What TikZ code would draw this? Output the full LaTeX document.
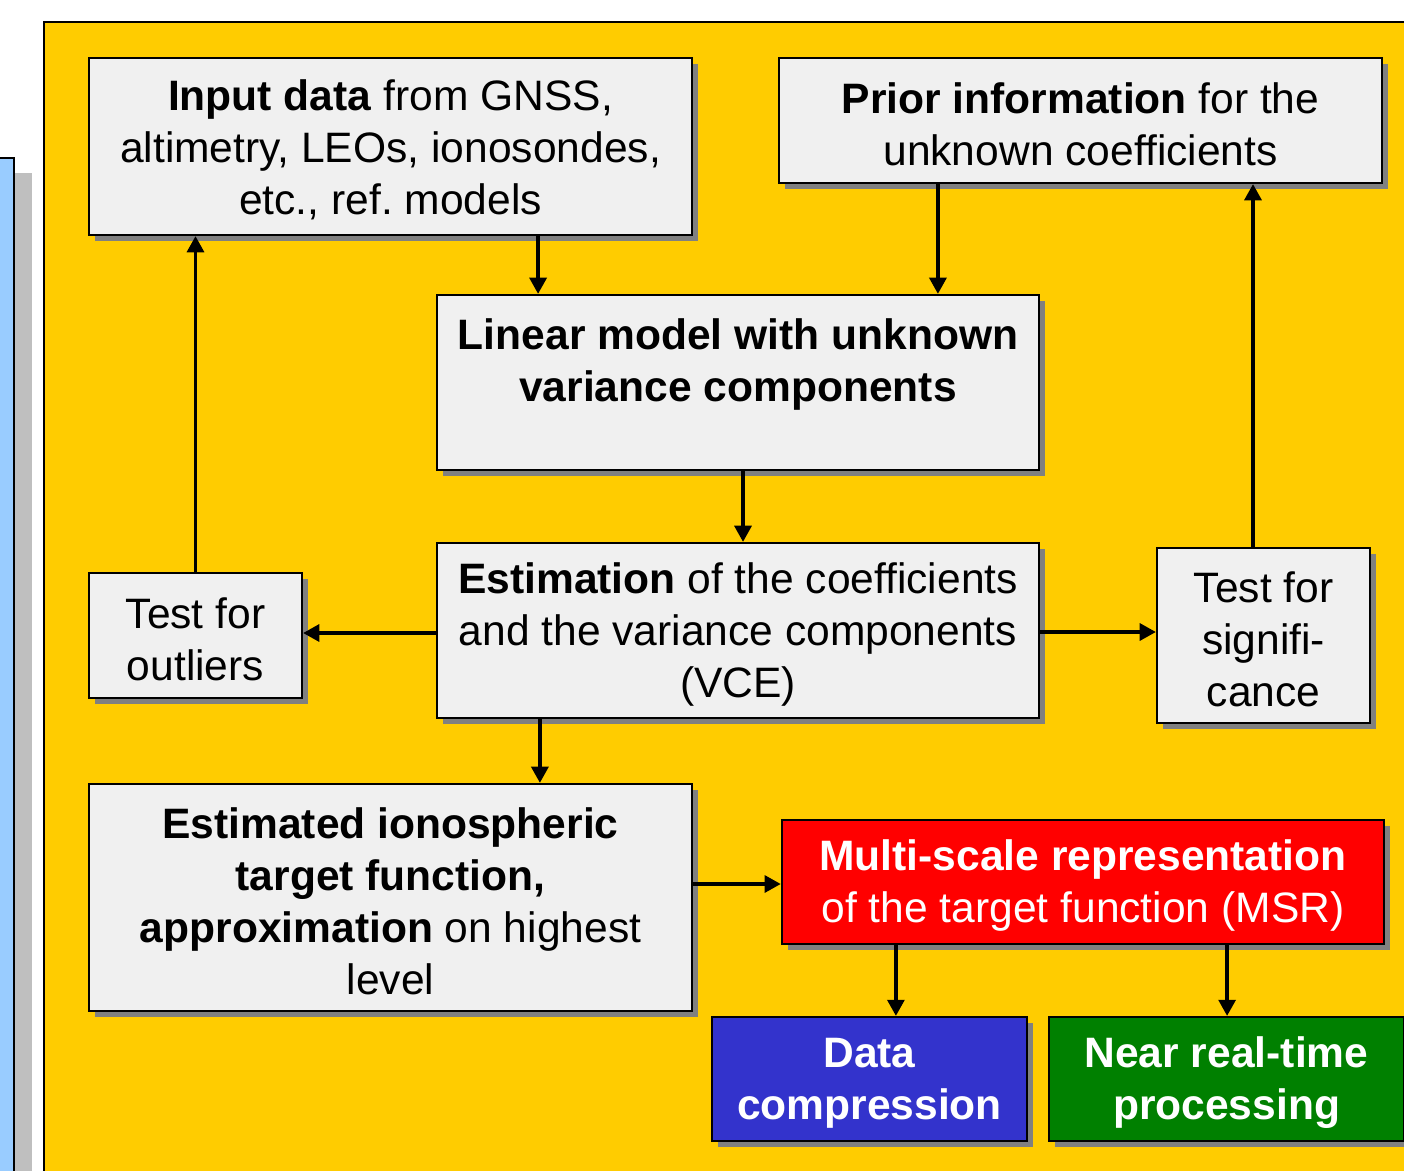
\documentclass[tikz,border=0pt]{standalone}
\usepackage{fontspec}
\setmainfont{Liberation Sans}
\usetikzlibrary{positioning,arrows.meta,shadows}
\definecolor{panelyellow}{HTML}{FFCC00}
\definecolor{boxgray}{HTML}{F0F0F0}
\definecolor{stripblue}{HTML}{99CCFF}
\definecolor{msrred}{HTML}{FF0000}
\definecolor{compblue}{HTML}{3333CC}
\definecolor{nrtgreen}{HTML}{008000}
\frenchspacing
\newcommand{\lift}{\rule{0pt}{10.9pt}}

\begin{document}
\begin{tikzpicture}[x=0.01cm,y=-0.01cm,
  box/.style={draw,line width=0.6pt,fill=boxgray,align=center,inner sep=0pt,
    font=\fontsize{12.1}{14.8}\selectfont,
    drop shadow={shadow xshift=0.06cm,shadow yshift=-0.06cm,fill=black!50,opacity=1}},
  colbox/.style={box,text=white,font=\fontsize{12.1}{14.8}\selectfont\bfseries},
  arr/.style={-{Triangle[width=4.8pt,length=4.6pt]},line width=1pt}]
\useasboundingbox (0,0) rectangle (1404,1170);
\clip (0,0) rectangle (1404,1170);
% background
\fill[black!25] (15,173) rectangle (32,1200);
\draw[line width=0.7pt,fill=stripblue] (-20,158) rectangle (14,1200);
\draw[line width=0.6pt,fill=panelyellow] (44,22) rectangle (1440,1200);

% boxes
\node[box,minimum width=6.03cm,minimum height=1.77cm] (input) at (390.5,146.5)
  {\lift\textbf{Input data} from GNSS,\\ altimetry, LEOs, ionosondes,\\ etc., ref. models};
\node[box,minimum width=6.03cm,minimum height=1.25cm] (prior) at (1080.5,120.5)
  {\lift\textbf{Prior information} for the\\ unknown coefficients};
\node[box,minimum width=6.02cm,minimum height=1.75cm,font=\fontsize{12.1}{14.8}\selectfont\bfseries] (lin) at (738,382.5)
  {\lift Linear model with unknown\\ variance components\\ \mbox{}};
\node[box,minimum width=6.02cm,minimum height=1.75cm] (est) at (738,630.5)
  {\lift\textbf{Estimation} of the coefficients\\ and the variance components\\ (VCE)};
\node[box,minimum width=2.13cm,minimum height=1.25cm] (outl) at (195.5,635.5)
  {\lift Test for\\ outliers};
\node[box,minimum width=2.13cm,minimum height=1.75cm] (sig) at (1263.5,635.5)
  {\lift Test for\\ signifi-\\ cance};
\node[box,minimum width=6.03cm,minimum height=2.27cm] (estd) at (390.5,897.5)
  {\lift\textbf{Estimated ionospheric}\\ \textbf{target function,}\\ \textbf{approximation} on highest\\ level};
\node[box,fill=msrred,text=white,minimum width=6.02cm,minimum height=1.24cm] (msr) at (1083,882)
  {\lift\textbf{Multi-scale representation}\\ of the target function (MSR)};
\node[colbox,fill=compblue,minimum width=3.15cm,minimum height=1.24cm] (comp) at (869.5,1079)
  {\lift Data\\ compression};
\node[colbox,fill=nrtgreen,minimum width=3.55cm,minimum height=1.24cm] (nrt) at (1226.5,1079)
  {\lift Near real-time\\ processing};

% connectors
\draw[arr] ([xshift=1.475cm]input.south) -- ([xshift=1.475cm]input.south |- lin.north);
\draw[arr] ([xshift=-1.425cm]prior.south) -- ([xshift=-1.425cm]prior.south |- lin.north);
\draw[arr] ([xshift=0.05cm]lin.south) -- ([xshift=0.05cm]lin.south |- est.north);
\draw[arr] ([yshift=-0.025cm]est.west) -- ([yshift=-0.025cm]est.west -| outl.east);
\draw[arr] (outl.north) -- (outl.north |- input.south);
\draw[arr] ([yshift=-0.015cm]est.east) -- ([yshift=-0.015cm]est.east -| sig.west);
\draw[arr] ([xshift=-0.105cm]sig.north) -- ([xshift=-0.105cm]sig.north |- prior.south);
\draw[arr] ([xshift=-1.98cm]est.south) -- ([xshift=-1.98cm]est.south |- estd.north);
\draw[arr] ([yshift=0.135cm]estd.east) -- ([yshift=0.135cm]estd.east -| msr.west);
\draw[arr] ([xshift=-1.87cm]msr.south) -- ([xshift=-1.87cm]msr.south |- comp.north);
\draw[arr] ([xshift=1.44cm]msr.south) -- ([xshift=1.44cm]msr.south |- nrt.north);
\end{tikzpicture}
\end{document}
